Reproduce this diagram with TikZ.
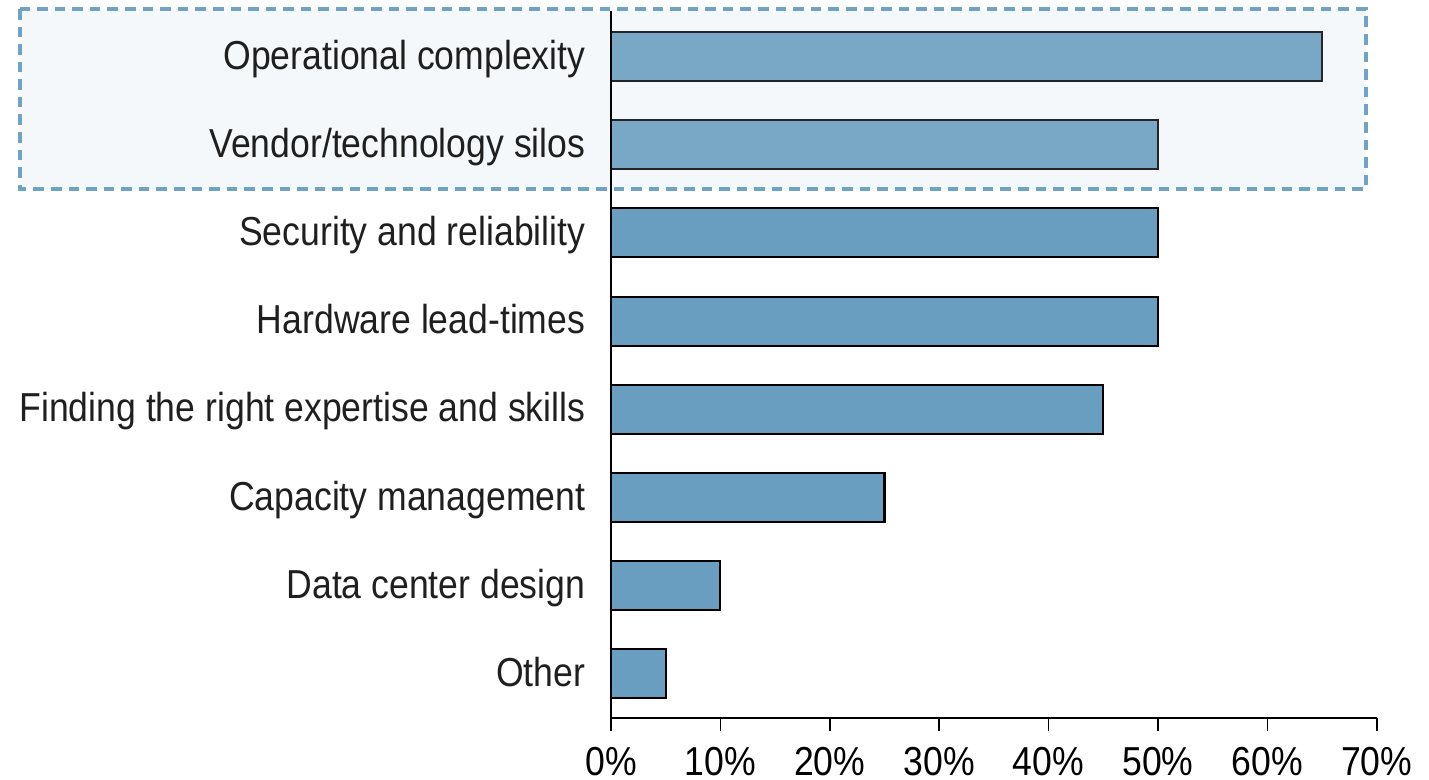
\documentclass[tikz,border=0pt]{standalone}
\usepackage{fontspec}
\setmainfont[FakeStretch=0.88]{Liberation Sans}
\usepackage{xcolor}
\definecolor{barblue}{HTML}{6A9EC0}
\definecolor{boxblue}{HTML}{6FA3C6}
\definecolor{boxtint}{HTML}{C2D8E3}

\begin{document}
\begin{tikzpicture}[x=0.01cm,y=-0.01cm,
    bar/.style={fill=barblue,draw=black,line width=0.6pt},
    lbl/.style={anchor=east,inner sep=0pt,text height=0.72em,text depth=0.2em,
      font=\fontsize{11.5}{13}\selectfont,text=black!88},
    pct/.style={inner sep=0pt,font=\fontsize{11.5}{13}\selectfont}]
    \def\X{611}   % 0%
    \def\U{109.4} % 10%
    \def\H{24.5}  % half bar height
    \useasboundingbox (0,0) rectangle (1429,780);

    % BARS
    \draw[bar] (\X,56.5-\H) rectangle (\X+6.5*\U,56.5+\H);
    \draw[bar] (\X,144.7-\H) rectangle (\X+5*\U,144.7+\H);
    \draw[bar] (\X,232.9-\H) rectangle (\X+5*\U,232.9+\H);
    \draw[bar] (\X,321.1-\H) rectangle (\X+5*\U,321.1+\H);
    \draw[bar] (\X,409.3-\H) rectangle (\X+4.5*\U,409.3+\H);
    \draw[bar] (\X,497.5-\H) rectangle (\X+2.5*\U,497.5+\H);
    \draw[bar] (\X,585.7-\H) rectangle (\X+1*\U,585.7+\H);
    \draw[bar] (\X,673.9-\H) rectangle (\X+0.5*\U,673.9+\H);

    % HIGHLIGHT
    \fill[boxtint,fill opacity=0.18] (20,9) rectangle (1366,189);
    \draw[boxblue,line width=0.9pt,dash pattern=on 3pt off 2pt] (20,9) rectangle (1366,189);

    % LABELS
    \node[lbl] (oper) at (586,60) {Operational complexity};
    \node[lbl] (vend) at (586,148.2) {Vendor/technology silos};
    \node[lbl] (secu) at (586,236.4) {Security and reliability};
    \node[lbl] (hard) at (586,324.6) {Hardware lead-times};
    \node[lbl] (find) at (586,412.8) {Finding the right expertise and skills};
    \node[lbl] (capa) at (586,501) {Capacity management};
    \node[lbl] (dcd) at (586,589.2) {Data center design};
    \node[lbl] (other) at (586,677.4) {Other};

    % AXES
    \draw[line width=0.5pt] (\X,11) -- (\X,718) -- (\X+7*\U,718);
    \draw[line width=0.5pt] (\X,718) -- ++(0,13) (\X+\U,718) -- ++(0,13)
      (\X+2*\U,718) -- ++(0,13) (\X+3*\U,718) -- ++(0,13) (\X+4*\U,718) -- ++(0,13)
      (\X+5*\U,718) -- ++(0,13) (\X+6*\U,718) -- ++(0,13) (\X+7*\U,718) -- ++(0,13);
    \node[pct] (p0) at (\X,762) {0\%};
    \node[pct] (p10) at (\X+\U,762) {10\%};
    \node[pct] (p20) at (\X+2*\U,762) {20\%};
    \node[pct] (p30) at (\X+3*\U,762) {30\%};
    \node[pct] (p40) at (\X+4*\U,762) {40\%};
    \node[pct] (p50) at (\X+5*\U,762) {50\%};
    \node[pct] (p60) at (\X+6*\U,762) {60\%};
    \node[pct] (p70) at (\X+7*\U,762) {70\%};
\end{tikzpicture}
\end{document}
